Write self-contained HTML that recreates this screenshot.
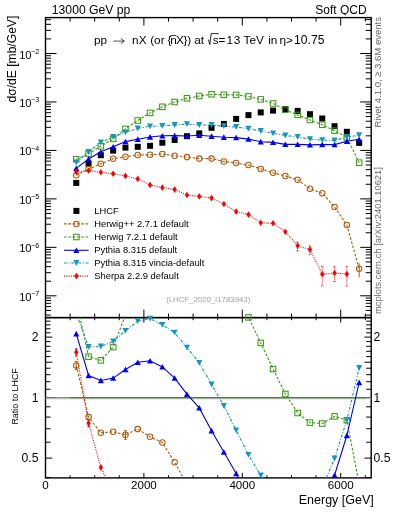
<!DOCTYPE html>
<html><head><meta charset="utf-8"><style>
html,body{margin:0;padding:0;background:#fff;}
body{width:393px;height:512px;position:relative;overflow:hidden;font-family:"Liberation Sans",sans-serif;}
svg{will-change:transform;}
text{font-family:"Liberation Sans",sans-serif;}
</style></head><body>
<svg width="393" height="512" viewBox="0 0 393 512" style="position:absolute;left:0;top:0">
<defs><clipPath id="cu"><rect x="45.50" y="17.60" width="325.70" height="300.00"/></clipPath>
<clipPath id="cr"><rect x="45.50" y="317.60" width="325.70" height="160.30"/></clipPath></defs>
<rect x="45.5" y="17.6" width="325.7" height="300.0" fill="none" stroke="#000" stroke-width="1.4"/>
<rect x="45.5" y="317.6" width="325.7" height="160.29999999999995" fill="none" stroke="#000" stroke-width="1.4"/>
<path d="M45.50,17.6 v8 M45.50,317.6 v-8 M45.50,317.6 v5 M45.50,477.9 v-5 M70.10,17.6 v4 M70.10,317.6 v-4 M70.10,317.6 v2.6 M70.10,477.9 v-2.6 M94.70,17.6 v4 M94.70,317.6 v-4 M94.70,317.6 v2.6 M94.70,477.9 v-2.6 M119.30,17.6 v4 M119.30,317.6 v-4 M119.30,317.6 v2.6 M119.30,477.9 v-2.6 M143.90,17.6 v8 M143.90,317.6 v-8 M143.90,317.6 v5 M143.90,477.9 v-5 M168.50,17.6 v4 M168.50,317.6 v-4 M168.50,317.6 v2.6 M168.50,477.9 v-2.6 M193.10,17.6 v4 M193.10,317.6 v-4 M193.10,317.6 v2.6 M193.10,477.9 v-2.6 M217.70,17.6 v4 M217.70,317.6 v-4 M217.70,317.6 v2.6 M217.70,477.9 v-2.6 M242.30,17.6 v8 M242.30,317.6 v-8 M242.30,317.6 v5 M242.30,477.9 v-5 M266.90,17.6 v4 M266.90,317.6 v-4 M266.90,317.6 v2.6 M266.90,477.9 v-2.6 M291.50,17.6 v4 M291.50,317.6 v-4 M291.50,317.6 v2.6 M291.50,477.9 v-2.6 M316.10,17.6 v4 M316.10,317.6 v-4 M316.10,317.6 v2.6 M316.10,477.9 v-2.6 M340.70,17.6 v8 M340.70,317.6 v-8 M340.70,317.6 v5 M340.70,477.9 v-5 M365.30,17.6 v4 M365.30,317.6 v-4 M365.30,317.6 v2.6 M365.30,477.9 v-2.6 M45.5,315.08 h5.5 M371.2,315.08 h-5.5 M45.5,310.39 h5.5 M371.2,310.39 h-5.5 M45.5,306.55 h5.5 M371.2,306.55 h-5.5 M45.5,303.31 h5.5 M371.2,303.31 h-5.5 M45.5,300.50 h5.5 M371.2,300.50 h-5.5 M45.5,298.02 h5.5 M371.2,298.02 h-5.5 M45.5,295.80 h11 M371.2,295.80 h-11 M45.5,281.21 h5.5 M371.2,281.21 h-5.5 M45.5,272.68 h5.5 M371.2,272.68 h-5.5 M45.5,266.62 h5.5 M371.2,266.62 h-5.5 M45.5,261.93 h5.5 M371.2,261.93 h-5.5 M45.5,258.09 h5.5 M371.2,258.09 h-5.5 M45.5,254.85 h5.5 M371.2,254.85 h-5.5 M45.5,252.04 h5.5 M371.2,252.04 h-5.5 M45.5,249.56 h5.5 M371.2,249.56 h-5.5 M45.5,247.34 h11 M371.2,247.34 h-11 M45.5,232.75 h5.5 M371.2,232.75 h-5.5 M45.5,224.22 h5.5 M371.2,224.22 h-5.5 M45.5,218.16 h5.5 M371.2,218.16 h-5.5 M45.5,213.47 h5.5 M371.2,213.47 h-5.5 M45.5,209.63 h5.5 M371.2,209.63 h-5.5 M45.5,206.39 h5.5 M371.2,206.39 h-5.5 M45.5,203.58 h5.5 M371.2,203.58 h-5.5 M45.5,201.10 h5.5 M371.2,201.10 h-5.5 M45.5,198.88 h11 M371.2,198.88 h-11 M45.5,184.29 h5.5 M371.2,184.29 h-5.5 M45.5,175.76 h5.5 M371.2,175.76 h-5.5 M45.5,169.70 h5.5 M371.2,169.70 h-5.5 M45.5,165.01 h5.5 M371.2,165.01 h-5.5 M45.5,161.17 h5.5 M371.2,161.17 h-5.5 M45.5,157.93 h5.5 M371.2,157.93 h-5.5 M45.5,155.12 h5.5 M371.2,155.12 h-5.5 M45.5,152.64 h5.5 M371.2,152.64 h-5.5 M45.5,150.42 h11 M371.2,150.42 h-11 M45.5,135.83 h5.5 M371.2,135.83 h-5.5 M45.5,127.30 h5.5 M371.2,127.30 h-5.5 M45.5,121.24 h5.5 M371.2,121.24 h-5.5 M45.5,116.55 h5.5 M371.2,116.55 h-5.5 M45.5,112.71 h5.5 M371.2,112.71 h-5.5 M45.5,109.47 h5.5 M371.2,109.47 h-5.5 M45.5,106.66 h5.5 M371.2,106.66 h-5.5 M45.5,104.18 h5.5 M371.2,104.18 h-5.5 M45.5,101.96 h11 M371.2,101.96 h-11 M45.5,87.37 h5.5 M371.2,87.37 h-5.5 M45.5,78.84 h5.5 M371.2,78.84 h-5.5 M45.5,72.78 h5.5 M371.2,72.78 h-5.5 M45.5,68.09 h5.5 M371.2,68.09 h-5.5 M45.5,64.25 h5.5 M371.2,64.25 h-5.5 M45.5,61.01 h5.5 M371.2,61.01 h-5.5 M45.5,58.20 h5.5 M371.2,58.20 h-5.5 M45.5,55.72 h5.5 M371.2,55.72 h-5.5 M45.5,53.50 h11 M371.2,53.50 h-11 M45.5,38.91 h5.5 M371.2,38.91 h-5.5 M45.5,30.38 h5.5 M371.2,30.38 h-5.5 M45.5,24.32 h5.5 M371.2,24.32 h-5.5 M45.5,19.63 h5.5 M371.2,19.63 h-5.5 M45.5,477.58 h5 M371.2,477.58 h-5 M45.5,458.10 h6.8 M371.2,458.10 h-6.8 M45.5,442.19 h5 M371.2,442.19 h-5 M45.5,428.73 h5 M371.2,428.73 h-5 M45.5,417.08 h5 M371.2,417.08 h-5 M45.5,406.80 h5 M371.2,406.80 h-5 M45.5,397.60 h10 M371.2,397.60 h-10 M45.5,389.28 h5 M371.2,389.28 h-5 M45.5,381.69 h5 M371.2,381.69 h-5 M45.5,374.70 h5 M371.2,374.70 h-5 M45.5,368.23 h5 M371.2,368.23 h-5 M45.5,362.21 h6.8 M371.2,362.21 h-6.8 M45.5,356.58 h5 M371.2,356.58 h-5 M45.5,351.29 h5 M371.2,351.29 h-5 M45.5,346.30 h5 M371.2,346.30 h-5 M45.5,341.58 h5 M371.2,341.58 h-5 M45.5,337.10 h6.8 M371.2,337.10 h-6.8 M45.5,332.84 h5 M371.2,332.84 h-5 M45.5,328.78 h5 M371.2,328.78 h-5 M45.5,324.90 h5 M371.2,324.90 h-5 M45.5,321.19 h5 M371.2,321.19 h-5" stroke="#000" stroke-width="1" fill="none"/>
<g clip-path="url(#cu)">
<polyline points="76.25,175.30 88.55,169.10 100.85,163.80 113.15,158.70 125.45,156.80 137.75,155.00 150.05,154.80 162.35,154.00 174.65,155.70 186.95,157.10 199.25,158.60 211.55,158.60 223.85,161.50 236.15,163.00 248.45,165.00 260.75,168.90 273.05,172.80 285.35,176.00 297.65,179.80 309.95,188.70 322.25,193.30 334.55,207.00 346.85,225.00 359.15,268.70" fill="none" stroke="#b05a0a" stroke-width="1.1" stroke-dasharray="2.6,1.7"/>
<polyline points="76.25,159.30 88.55,153.70 100.85,146.30 113.15,138.90 125.45,128.90 137.75,120.50 150.05,112.90 162.35,106.80 174.65,102.00 186.95,98.30 199.25,96.00 211.55,94.30 223.85,94.80 236.15,94.90 248.45,96.40 260.75,99.40 273.05,103.50 285.35,109.80 297.65,114.90 309.95,120.00 322.25,124.80 334.55,130.70 346.85,137.40 359.15,162.70" fill="none" stroke="#3a9a14" stroke-width="1.1" stroke-dasharray="2.6,1.7"/>
<polyline points="76.25,168.40 88.55,159.00 100.85,151.80 113.15,146.80 125.45,141.60 137.75,139.20 150.05,137.00 162.35,135.80 174.65,135.60 186.95,136.00 199.25,135.30 211.55,136.20 223.85,137.20 236.15,137.60 248.45,139.10 260.75,141.70 273.05,142.40 285.35,144.40 297.65,144.40 309.95,144.90 322.25,144.60 334.55,144.60 346.85,141.20 359.15,139.30" fill="none" stroke="#0000f0" stroke-width="1.1"/>
<polyline points="76.25,162.50 88.55,151.80 100.85,142.50 113.15,136.90 125.45,132.40 137.75,128.40 150.05,126.30 162.35,125.90 174.65,125.00 186.95,124.20 199.25,125.00 211.55,125.00 223.85,126.20 236.15,127.00 248.45,128.70 260.75,131.00 273.05,133.30 285.35,135.50 297.65,136.90 309.95,139.10 322.25,140.20 334.55,140.40 346.85,137.20 359.15,135.20" fill="none" stroke="#1496be" stroke-width="1.1" stroke-dasharray="3,1.6,1,1.6"/>
<polyline points="76.25,172.00 88.55,170.50 100.85,172.30 113.15,173.80 125.45,175.90 137.75,178.90 150.05,185.00 162.35,187.60 174.65,189.60 186.95,195.00 199.25,196.40 211.55,198.10 223.85,204.00 236.15,211.60 248.45,214.60 260.75,222.80 273.05,223.30 285.35,231.80 297.65,245.80 309.95,249.60 322.25,274.30 334.55,273.10 346.85,274.10" fill="none" stroke="#ff0000" stroke-width="1.1" stroke-dasharray="1,1.3"/>
<path d="M297.65,242 V251 M296.45,242 h2.4 M296.45,251 h2.4" stroke="#ff0000" stroke-width="1" stroke-dasharray="1,1" fill="none"/>
<path d="M309.95,245.8 V254.7 M308.75,245.8 h2.4 M308.75,254.7 h2.4" stroke="#ff0000" stroke-width="1" stroke-dasharray="1,1" fill="none"/>
<path d="M322.25,266.5 V286.2 M321.05,266.5 h2.4 M321.05,286.2 h2.4" stroke="#ff0000" stroke-width="1" stroke-dasharray="1,1" fill="none"/>
<path d="M334.55,266.7 V281.7 M333.35,266.7 h2.4 M333.35,281.7 h2.4" stroke="#ff0000" stroke-width="1" stroke-dasharray="1,1" fill="none"/>
<path d="M346.85,266.5 V286.2 M345.65,266.5 h2.4 M345.65,286.2 h2.4" stroke="#ff0000" stroke-width="1" stroke-dasharray="1,1" fill="none"/>
<path d="M359.15,263.3 V277.3" stroke="#b05a0a" stroke-width="1" fill="none"/>
</g>
<rect x="73.25" y="179.90" width="6" height="6" fill="#000"/>
<rect x="85.55" y="160.80" width="6" height="6" fill="#000"/>
<rect x="97.85" y="152.20" width="6" height="6" fill="#000"/>
<rect x="110.15" y="147.60" width="6" height="6" fill="#000"/>
<rect x="122.45" y="144.60" width="6" height="6" fill="#000"/>
<rect x="134.75" y="143.80" width="6" height="6" fill="#000"/>
<rect x="147.05" y="142.80" width="6" height="6" fill="#000"/>
<rect x="159.35" y="139.70" width="6" height="6" fill="#000"/>
<rect x="171.65" y="137.00" width="6" height="6" fill="#000"/>
<rect x="183.95" y="133.20" width="6" height="6" fill="#000"/>
<rect x="196.25" y="130.40" width="6" height="6" fill="#000"/>
<rect x="208.55" y="124.80" width="6" height="6" fill="#000"/>
<rect x="220.85" y="120.90" width="6" height="6" fill="#000"/>
<rect x="233.15" y="115.90" width="6" height="6" fill="#000"/>
<rect x="245.45" y="112.10" width="6" height="6" fill="#000"/>
<rect x="257.75" y="109.40" width="6" height="6" fill="#000"/>
<rect x="270.05" y="107.60" width="6" height="6" fill="#000"/>
<rect x="282.35" y="106.10" width="6" height="6" fill="#000"/>
<rect x="294.65" y="107.90" width="6" height="6" fill="#000"/>
<rect x="306.95" y="111.20" width="6" height="6" fill="#000"/>
<rect x="319.25" y="115.50" width="6" height="6" fill="#000"/>
<rect x="331.55" y="123.20" width="6" height="6" fill="#000"/>
<rect x="343.85" y="128.80" width="6" height="6" fill="#000"/>
<rect x="356.15" y="139.90" width="6" height="6" fill="#000"/>
<circle cx="76.25" cy="175.30" r="2.75" fill="none" stroke="#b05a0a" stroke-width="1.05"/>
<circle cx="88.55" cy="169.10" r="2.75" fill="none" stroke="#b05a0a" stroke-width="1.05"/>
<circle cx="100.85" cy="163.80" r="2.75" fill="none" stroke="#b05a0a" stroke-width="1.05"/>
<circle cx="113.15" cy="158.70" r="2.75" fill="none" stroke="#b05a0a" stroke-width="1.05"/>
<circle cx="125.45" cy="156.80" r="2.75" fill="none" stroke="#b05a0a" stroke-width="1.05"/>
<circle cx="137.75" cy="155.00" r="2.75" fill="none" stroke="#b05a0a" stroke-width="1.05"/>
<circle cx="150.05" cy="154.80" r="2.75" fill="none" stroke="#b05a0a" stroke-width="1.05"/>
<circle cx="162.35" cy="154.00" r="2.75" fill="none" stroke="#b05a0a" stroke-width="1.05"/>
<circle cx="174.65" cy="155.70" r="2.75" fill="none" stroke="#b05a0a" stroke-width="1.05"/>
<circle cx="186.95" cy="157.10" r="2.75" fill="none" stroke="#b05a0a" stroke-width="1.05"/>
<circle cx="199.25" cy="158.60" r="2.75" fill="none" stroke="#b05a0a" stroke-width="1.05"/>
<circle cx="211.55" cy="158.60" r="2.75" fill="none" stroke="#b05a0a" stroke-width="1.05"/>
<circle cx="223.85" cy="161.50" r="2.75" fill="none" stroke="#b05a0a" stroke-width="1.05"/>
<circle cx="236.15" cy="163.00" r="2.75" fill="none" stroke="#b05a0a" stroke-width="1.05"/>
<circle cx="248.45" cy="165.00" r="2.75" fill="none" stroke="#b05a0a" stroke-width="1.05"/>
<circle cx="260.75" cy="168.90" r="2.75" fill="none" stroke="#b05a0a" stroke-width="1.05"/>
<circle cx="273.05" cy="172.80" r="2.75" fill="none" stroke="#b05a0a" stroke-width="1.05"/>
<circle cx="285.35" cy="176.00" r="2.75" fill="none" stroke="#b05a0a" stroke-width="1.05"/>
<circle cx="297.65" cy="179.80" r="2.75" fill="none" stroke="#b05a0a" stroke-width="1.05"/>
<circle cx="309.95" cy="188.70" r="2.75" fill="none" stroke="#b05a0a" stroke-width="1.05"/>
<circle cx="322.25" cy="193.30" r="2.75" fill="none" stroke="#b05a0a" stroke-width="1.05"/>
<circle cx="334.55" cy="207.00" r="2.75" fill="none" stroke="#b05a0a" stroke-width="1.05"/>
<circle cx="346.85" cy="225.00" r="2.75" fill="none" stroke="#b05a0a" stroke-width="1.05"/>
<circle cx="359.15" cy="268.70" r="2.75" fill="none" stroke="#b05a0a" stroke-width="1.05"/>
<rect x="73.50" y="156.55" width="5.5" height="5.5" fill="none" stroke="#3a9a14" stroke-width="1.05"/>
<rect x="85.80" y="150.95" width="5.5" height="5.5" fill="none" stroke="#3a9a14" stroke-width="1.05"/>
<rect x="98.10" y="143.55" width="5.5" height="5.5" fill="none" stroke="#3a9a14" stroke-width="1.05"/>
<rect x="110.40" y="136.15" width="5.5" height="5.5" fill="none" stroke="#3a9a14" stroke-width="1.05"/>
<rect x="122.70" y="126.15" width="5.5" height="5.5" fill="none" stroke="#3a9a14" stroke-width="1.05"/>
<rect x="135.00" y="117.75" width="5.5" height="5.5" fill="none" stroke="#3a9a14" stroke-width="1.05"/>
<rect x="147.30" y="110.15" width="5.5" height="5.5" fill="none" stroke="#3a9a14" stroke-width="1.05"/>
<rect x="159.60" y="104.05" width="5.5" height="5.5" fill="none" stroke="#3a9a14" stroke-width="1.05"/>
<rect x="171.90" y="99.25" width="5.5" height="5.5" fill="none" stroke="#3a9a14" stroke-width="1.05"/>
<rect x="184.20" y="95.55" width="5.5" height="5.5" fill="none" stroke="#3a9a14" stroke-width="1.05"/>
<rect x="196.50" y="93.25" width="5.5" height="5.5" fill="none" stroke="#3a9a14" stroke-width="1.05"/>
<rect x="208.80" y="91.55" width="5.5" height="5.5" fill="none" stroke="#3a9a14" stroke-width="1.05"/>
<rect x="221.10" y="92.05" width="5.5" height="5.5" fill="none" stroke="#3a9a14" stroke-width="1.05"/>
<rect x="233.40" y="92.15" width="5.5" height="5.5" fill="none" stroke="#3a9a14" stroke-width="1.05"/>
<rect x="245.70" y="93.65" width="5.5" height="5.5" fill="none" stroke="#3a9a14" stroke-width="1.05"/>
<rect x="258.00" y="96.65" width="5.5" height="5.5" fill="none" stroke="#3a9a14" stroke-width="1.05"/>
<rect x="270.30" y="100.75" width="5.5" height="5.5" fill="none" stroke="#3a9a14" stroke-width="1.05"/>
<rect x="282.60" y="107.05" width="5.5" height="5.5" fill="none" stroke="#3a9a14" stroke-width="1.05"/>
<rect x="294.90" y="112.15" width="5.5" height="5.5" fill="none" stroke="#3a9a14" stroke-width="1.05"/>
<rect x="307.20" y="117.25" width="5.5" height="5.5" fill="none" stroke="#3a9a14" stroke-width="1.05"/>
<rect x="319.50" y="122.05" width="5.5" height="5.5" fill="none" stroke="#3a9a14" stroke-width="1.05"/>
<rect x="331.80" y="127.95" width="5.5" height="5.5" fill="none" stroke="#3a9a14" stroke-width="1.05"/>
<rect x="344.10" y="134.65" width="5.5" height="5.5" fill="none" stroke="#3a9a14" stroke-width="1.05"/>
<rect x="356.40" y="159.95" width="5.5" height="5.5" fill="none" stroke="#3a9a14" stroke-width="1.05"/>
<path d="M76.25,165.50 L79.30,171.10 L73.20,171.10 Z" fill="#0000f0"/>
<path d="M88.55,156.10 L91.60,161.70 L85.50,161.70 Z" fill="#0000f0"/>
<path d="M100.85,148.90 L103.90,154.50 L97.80,154.50 Z" fill="#0000f0"/>
<path d="M113.15,143.90 L116.20,149.50 L110.10,149.50 Z" fill="#0000f0"/>
<path d="M125.45,138.70 L128.50,144.30 L122.40,144.30 Z" fill="#0000f0"/>
<path d="M137.75,136.30 L140.80,141.90 L134.70,141.90 Z" fill="#0000f0"/>
<path d="M150.05,134.10 L153.10,139.70 L147.00,139.70 Z" fill="#0000f0"/>
<path d="M162.35,132.90 L165.40,138.50 L159.30,138.50 Z" fill="#0000f0"/>
<path d="M174.65,132.70 L177.70,138.30 L171.60,138.30 Z" fill="#0000f0"/>
<path d="M186.95,133.10 L190.00,138.70 L183.90,138.70 Z" fill="#0000f0"/>
<path d="M199.25,132.40 L202.30,138.00 L196.20,138.00 Z" fill="#0000f0"/>
<path d="M211.55,133.30 L214.60,138.90 L208.50,138.90 Z" fill="#0000f0"/>
<path d="M223.85,134.30 L226.90,139.90 L220.80,139.90 Z" fill="#0000f0"/>
<path d="M236.15,134.70 L239.20,140.30 L233.10,140.30 Z" fill="#0000f0"/>
<path d="M248.45,136.20 L251.50,141.80 L245.40,141.80 Z" fill="#0000f0"/>
<path d="M260.75,138.80 L263.80,144.40 L257.70,144.40 Z" fill="#0000f0"/>
<path d="M273.05,139.50 L276.10,145.10 L270.00,145.10 Z" fill="#0000f0"/>
<path d="M285.35,141.50 L288.40,147.10 L282.30,147.10 Z" fill="#0000f0"/>
<path d="M297.65,141.50 L300.70,147.10 L294.60,147.10 Z" fill="#0000f0"/>
<path d="M309.95,142.00 L313.00,147.60 L306.90,147.60 Z" fill="#0000f0"/>
<path d="M322.25,141.70 L325.30,147.30 L319.20,147.30 Z" fill="#0000f0"/>
<path d="M334.55,141.70 L337.60,147.30 L331.50,147.30 Z" fill="#0000f0"/>
<path d="M346.85,138.30 L349.90,143.90 L343.80,143.90 Z" fill="#0000f0"/>
<path d="M359.15,136.40 L362.20,142.00 L356.10,142.00 Z" fill="#0000f0"/>
<path d="M73.20,159.60 L79.30,159.60 L76.25,165.40 Z" fill="#1496be"/>
<path d="M85.50,148.90 L91.60,148.90 L88.55,154.70 Z" fill="#1496be"/>
<path d="M97.80,139.60 L103.90,139.60 L100.85,145.40 Z" fill="#1496be"/>
<path d="M110.10,134.00 L116.20,134.00 L113.15,139.80 Z" fill="#1496be"/>
<path d="M122.40,129.50 L128.50,129.50 L125.45,135.30 Z" fill="#1496be"/>
<path d="M134.70,125.50 L140.80,125.50 L137.75,131.30 Z" fill="#1496be"/>
<path d="M147.00,123.40 L153.10,123.40 L150.05,129.20 Z" fill="#1496be"/>
<path d="M159.30,123.00 L165.40,123.00 L162.35,128.80 Z" fill="#1496be"/>
<path d="M171.60,122.10 L177.70,122.10 L174.65,127.90 Z" fill="#1496be"/>
<path d="M183.90,121.30 L190.00,121.30 L186.95,127.10 Z" fill="#1496be"/>
<path d="M196.20,122.10 L202.30,122.10 L199.25,127.90 Z" fill="#1496be"/>
<path d="M208.50,122.10 L214.60,122.10 L211.55,127.90 Z" fill="#1496be"/>
<path d="M220.80,123.30 L226.90,123.30 L223.85,129.10 Z" fill="#1496be"/>
<path d="M233.10,124.10 L239.20,124.10 L236.15,129.90 Z" fill="#1496be"/>
<path d="M245.40,125.80 L251.50,125.80 L248.45,131.60 Z" fill="#1496be"/>
<path d="M257.70,128.10 L263.80,128.10 L260.75,133.90 Z" fill="#1496be"/>
<path d="M270.00,130.40 L276.10,130.40 L273.05,136.20 Z" fill="#1496be"/>
<path d="M282.30,132.60 L288.40,132.60 L285.35,138.40 Z" fill="#1496be"/>
<path d="M294.60,134.00 L300.70,134.00 L297.65,139.80 Z" fill="#1496be"/>
<path d="M306.90,136.20 L313.00,136.20 L309.95,142.00 Z" fill="#1496be"/>
<path d="M319.20,137.30 L325.30,137.30 L322.25,143.10 Z" fill="#1496be"/>
<path d="M331.50,137.50 L337.60,137.50 L334.55,143.30 Z" fill="#1496be"/>
<path d="M343.80,134.30 L349.90,134.30 L346.85,140.10 Z" fill="#1496be"/>
<path d="M356.10,132.30 L362.20,132.30 L359.15,138.10 Z" fill="#1496be"/>
<path d="M76.25,168.70 L78.45,172.00 L76.25,175.30 L74.05,172.00 Z" fill="#ff0000"/>
<path d="M88.55,167.20 L90.75,170.50 L88.55,173.80 L86.35,170.50 Z" fill="#ff0000"/>
<path d="M100.85,169.00 L103.05,172.30 L100.85,175.60 L98.65,172.30 Z" fill="#ff0000"/>
<path d="M113.15,170.50 L115.35,173.80 L113.15,177.10 L110.95,173.80 Z" fill="#ff0000"/>
<path d="M125.45,172.60 L127.65,175.90 L125.45,179.20 L123.25,175.90 Z" fill="#ff0000"/>
<path d="M137.75,175.60 L139.95,178.90 L137.75,182.20 L135.55,178.90 Z" fill="#ff0000"/>
<path d="M150.05,181.70 L152.25,185.00 L150.05,188.30 L147.85,185.00 Z" fill="#ff0000"/>
<path d="M162.35,184.30 L164.55,187.60 L162.35,190.90 L160.15,187.60 Z" fill="#ff0000"/>
<path d="M174.65,186.30 L176.85,189.60 L174.65,192.90 L172.45,189.60 Z" fill="#ff0000"/>
<path d="M186.95,191.70 L189.15,195.00 L186.95,198.30 L184.75,195.00 Z" fill="#ff0000"/>
<path d="M199.25,193.10 L201.45,196.40 L199.25,199.70 L197.05,196.40 Z" fill="#ff0000"/>
<path d="M211.55,194.80 L213.75,198.10 L211.55,201.40 L209.35,198.10 Z" fill="#ff0000"/>
<path d="M223.85,200.70 L226.05,204.00 L223.85,207.30 L221.65,204.00 Z" fill="#ff0000"/>
<path d="M236.15,208.30 L238.35,211.60 L236.15,214.90 L233.95,211.60 Z" fill="#ff0000"/>
<path d="M248.45,211.30 L250.65,214.60 L248.45,217.90 L246.25,214.60 Z" fill="#ff0000"/>
<path d="M260.75,219.50 L262.95,222.80 L260.75,226.10 L258.55,222.80 Z" fill="#ff0000"/>
<path d="M273.05,220.00 L275.25,223.30 L273.05,226.60 L270.85,223.30 Z" fill="#ff0000"/>
<path d="M285.35,228.50 L287.55,231.80 L285.35,235.10 L283.15,231.80 Z" fill="#ff0000"/>
<path d="M297.65,242.50 L299.85,245.80 L297.65,249.10 L295.45,245.80 Z" fill="#ff0000"/>
<path d="M309.95,246.30 L312.15,249.60 L309.95,252.90 L307.75,249.60 Z" fill="#ff0000"/>
<path d="M322.25,271.00 L324.45,274.30 L322.25,277.60 L320.05,274.30 Z" fill="#ff0000"/>
<path d="M334.55,269.80 L336.75,273.10 L334.55,276.40 L332.35,273.10 Z" fill="#ff0000"/>
<path d="M346.85,270.80 L349.05,274.10 L346.85,277.40 L344.65,274.10 Z" fill="#ff0000"/>
<rect x="45.5" y="397.1" width="325.7" height="1.4" fill="#7a7a7a"/>
<rect x="45.5" y="398.5" width="325.7" height="0.8" fill="#c4c4c4"/>
<rect x="69.9" y="397.1" width="295.40" height="1.2" fill="#4f7a44"/>
<g clip-path="url(#cr)">
<polyline points="76.25,365.50 88.55,417.10 100.85,432.80 113.15,431.80 125.45,434.80 137.75,429.10 150.05,436.80 162.35,442.50 174.65,462.30 186.95,484.21 199.25,502.03 211.55,525.24 223.85,553.41 236.15,580.35 248.45,604.39 260.75,631.74 273.05,655.36 285.35,674.83 297.65,683.12 309.95,706.33 322.25,707.57 334.55,732.44 346.85,783.82 359.15,918.92" fill="none" stroke="#b05a0a" stroke-width="1.1" stroke-dasharray="2.6,1.7"/>
<polyline points="76.25,299.80 88.55,356.70 100.85,360.40 113.15,347.10 125.45,315.20 137.75,288.61 150.05,261.26 162.35,248.83 174.65,240.13 186.95,240.54 199.25,242.61 211.55,258.78 223.85,277.01 236.15,298.14 248.45,317.40 260.75,342.90 273.05,369.00 285.35,394.00 297.65,413.00 309.95,422.60 322.25,423.50 334.55,416.40 346.85,420.20 359.15,484.00" fill="none" stroke="#3a9a14" stroke-width="1.1" stroke-dasharray="2.6,1.7"/>
<polyline points="76.25,333.70 88.55,375.50 100.85,380.50 113.15,378.10 125.45,369.50 137.75,362.30 150.05,360.80 162.35,366.90 174.65,378.10 186.95,394.20 199.25,407.90 211.55,430.70 223.85,452.10 236.15,473.50 248.45,497.06 260.75,519.02 273.05,529.38 285.35,543.88 297.65,536.42 309.95,524.82 322.25,505.76 334.55,475.20 346.85,435.50 359.15,382.50" fill="none" stroke="#0000f0" stroke-width="1.1"/>
<polyline points="76.25,313.06 88.55,347.00 100.85,346.50 113.15,341.40 125.45,330.80 137.75,321.10 150.05,318.60 162.35,324.80 174.65,332.70 186.95,347.60 199.25,362.80 211.55,384.50 223.85,405.80 236.15,430.30 248.45,454.80 260.75,475.50 273.05,491.67 285.35,507.00 297.65,505.34 309.95,500.79 322.25,487.52 334.55,458.50 346.85,420.00 359.15,368.00" fill="none" stroke="#1496be" stroke-width="1.1" stroke-dasharray="3,1.6,1,1.6"/>
<polyline points="76.25,352.20 88.55,423.20 100.85,467.40 113.15,493.74 125.45,514.88 137.75,530.62 150.05,560.04 162.35,583.67 174.65,603.14 186.95,641.27 199.25,658.67 211.55,688.92 223.85,729.53 236.15,781.75 248.45,809.93 260.75,855.10 273.05,864.63 285.35,906.07 297.65,956.63 309.95,958.70 322.25,1043.24 334.55,1006.35 346.85,987.29" fill="none" stroke="#ff0000" stroke-width="1.1" stroke-dasharray="1,1.3"/>
<path d="M76.25,348.8 V356 M75.05,348.8 h2.4 M75.05,356 h2.4" stroke="#ff0000" stroke-width="1" fill="none"/>
<path d="M88.55,419.9 V426.8 M87.35,419.9 h2.4 M87.35,426.8 h2.4" stroke="#ff0000" stroke-width="1" fill="none"/>
<path d="M76.25,361.4 V369.5 M75.05,361.4 h2.4 M75.05,369.5 h2.4" stroke="#b05a0a" stroke-width="1" fill="none"/>
<path d="M125.45,430.6 V439.4 M124.25,430.6 h2.4 M124.25,439.4 h2.4" stroke="#b05a0a" stroke-width="1" fill="none"/>
</g>
<circle cx="76.25" cy="365.50" r="2.75" fill="none" stroke="#b05a0a" stroke-width="1.05"/>
<circle cx="88.55" cy="417.10" r="2.75" fill="none" stroke="#b05a0a" stroke-width="1.05"/>
<circle cx="100.85" cy="432.80" r="2.75" fill="none" stroke="#b05a0a" stroke-width="1.05"/>
<circle cx="113.15" cy="431.80" r="2.75" fill="none" stroke="#b05a0a" stroke-width="1.05"/>
<circle cx="125.45" cy="434.80" r="2.75" fill="none" stroke="#b05a0a" stroke-width="1.05"/>
<circle cx="137.75" cy="429.10" r="2.75" fill="none" stroke="#b05a0a" stroke-width="1.05"/>
<circle cx="150.05" cy="436.80" r="2.75" fill="none" stroke="#b05a0a" stroke-width="1.05"/>
<circle cx="162.35" cy="442.50" r="2.75" fill="none" stroke="#b05a0a" stroke-width="1.05"/>
<circle cx="174.65" cy="462.30" r="2.75" fill="none" stroke="#b05a0a" stroke-width="1.05"/>
<rect x="85.80" y="353.95" width="5.5" height="5.5" fill="none" stroke="#3a9a14" stroke-width="1.05"/>
<rect x="98.10" y="357.65" width="5.5" height="5.5" fill="none" stroke="#3a9a14" stroke-width="1.05"/>
<rect x="110.40" y="344.35" width="5.5" height="5.5" fill="none" stroke="#3a9a14" stroke-width="1.05"/>
<rect x="245.70" y="314.65" width="5.5" height="5.5" fill="none" stroke="#3a9a14" stroke-width="1.05"/>
<rect x="258.00" y="340.15" width="5.5" height="5.5" fill="none" stroke="#3a9a14" stroke-width="1.05"/>
<rect x="270.30" y="366.25" width="5.5" height="5.5" fill="none" stroke="#3a9a14" stroke-width="1.05"/>
<rect x="282.60" y="391.25" width="5.5" height="5.5" fill="none" stroke="#3a9a14" stroke-width="1.05"/>
<rect x="294.90" y="410.25" width="5.5" height="5.5" fill="none" stroke="#3a9a14" stroke-width="1.05"/>
<rect x="307.20" y="419.85" width="5.5" height="5.5" fill="none" stroke="#3a9a14" stroke-width="1.05"/>
<rect x="319.50" y="420.75" width="5.5" height="5.5" fill="none" stroke="#3a9a14" stroke-width="1.05"/>
<rect x="331.80" y="413.65" width="5.5" height="5.5" fill="none" stroke="#3a9a14" stroke-width="1.05"/>
<rect x="344.10" y="417.45" width="5.5" height="5.5" fill="none" stroke="#3a9a14" stroke-width="1.05"/>
<path d="M76.25,330.80 L79.30,336.40 L73.20,336.40 Z" fill="#0000f0"/>
<path d="M88.55,372.60 L91.60,378.20 L85.50,378.20 Z" fill="#0000f0"/>
<path d="M100.85,377.60 L103.90,383.20 L97.80,383.20 Z" fill="#0000f0"/>
<path d="M113.15,375.20 L116.20,380.80 L110.10,380.80 Z" fill="#0000f0"/>
<path d="M125.45,366.60 L128.50,372.20 L122.40,372.20 Z" fill="#0000f0"/>
<path d="M137.75,359.40 L140.80,365.00 L134.70,365.00 Z" fill="#0000f0"/>
<path d="M150.05,357.90 L153.10,363.50 L147.00,363.50 Z" fill="#0000f0"/>
<path d="M162.35,364.00 L165.40,369.60 L159.30,369.60 Z" fill="#0000f0"/>
<path d="M174.65,375.20 L177.70,380.80 L171.60,380.80 Z" fill="#0000f0"/>
<path d="M186.95,391.30 L190.00,396.90 L183.90,396.90 Z" fill="#0000f0"/>
<path d="M199.25,405.00 L202.30,410.60 L196.20,410.60 Z" fill="#0000f0"/>
<path d="M211.55,427.80 L214.60,433.40 L208.50,433.40 Z" fill="#0000f0"/>
<path d="M223.85,449.20 L226.90,454.80 L220.80,454.80 Z" fill="#0000f0"/>
<path d="M236.15,470.60 L239.20,476.20 L233.10,476.20 Z" fill="#0000f0"/>
<path d="M334.55,472.30 L337.60,477.90 L331.50,477.90 Z" fill="#0000f0"/>
<path d="M346.85,432.60 L349.90,438.20 L343.80,438.20 Z" fill="#0000f0"/>
<path d="M359.15,379.60 L362.20,385.20 L356.10,385.20 Z" fill="#0000f0"/>
<path d="M85.50,344.10 L91.60,344.10 L88.55,349.90 Z" fill="#1496be"/>
<path d="M97.80,343.60 L103.90,343.60 L100.85,349.40 Z" fill="#1496be"/>
<path d="M110.10,338.50 L116.20,338.50 L113.15,344.30 Z" fill="#1496be"/>
<path d="M122.40,327.90 L128.50,327.90 L125.45,333.70 Z" fill="#1496be"/>
<path d="M134.70,318.20 L140.80,318.20 L137.75,324.00 Z" fill="#1496be"/>
<path d="M147.00,315.70 L153.10,315.70 L150.05,321.50 Z" fill="#1496be"/>
<path d="M159.30,321.90 L165.40,321.90 L162.35,327.70 Z" fill="#1496be"/>
<path d="M171.60,329.80 L177.70,329.80 L174.65,335.60 Z" fill="#1496be"/>
<path d="M183.90,344.70 L190.00,344.70 L186.95,350.50 Z" fill="#1496be"/>
<path d="M196.20,359.90 L202.30,359.90 L199.25,365.70 Z" fill="#1496be"/>
<path d="M208.50,381.60 L214.60,381.60 L211.55,387.40 Z" fill="#1496be"/>
<path d="M220.80,402.90 L226.90,402.90 L223.85,408.70 Z" fill="#1496be"/>
<path d="M233.10,427.40 L239.20,427.40 L236.15,433.20 Z" fill="#1496be"/>
<path d="M245.40,451.90 L251.50,451.90 L248.45,457.70 Z" fill="#1496be"/>
<path d="M257.70,472.60 L263.80,472.60 L260.75,478.40 Z" fill="#1496be"/>
<path d="M331.50,455.60 L337.60,455.60 L334.55,461.40 Z" fill="#1496be"/>
<path d="M343.80,417.10 L349.90,417.10 L346.85,422.90 Z" fill="#1496be"/>
<path d="M356.10,365.10 L362.20,365.10 L359.15,370.90 Z" fill="#1496be"/>
<path d="M76.25,348.90 L78.45,352.20 L76.25,355.50 L74.05,352.20 Z" fill="#ff0000"/>
<path d="M88.55,419.90 L90.75,423.20 L88.55,426.50 L86.35,423.20 Z" fill="#ff0000"/>
<path d="M100.85,464.10 L103.05,467.40 L100.85,470.70 L98.65,467.40 Z" fill="#ff0000"/>
<rect x="73.40" y="207.90" width="6" height="6" fill="#000"/>
<path d="M64,223.9 H88.6" stroke="#b05a0a" stroke-width="1.1" fill="none" stroke-dasharray="2.6,1.7"/>
<circle cx="76.40" cy="223.90" r="2.75" fill="none" stroke="#b05a0a" stroke-width="1.05"/>
<path d="M64,237.0 H88.6" stroke="#3a9a14" stroke-width="1.1" fill="none" stroke-dasharray="2.6,1.7"/>
<rect x="73.65" y="234.25" width="5.5" height="5.5" fill="none" stroke="#3a9a14" stroke-width="1.05"/>
<path d="M64,250.3 H88.6" stroke="#0000f0" stroke-width="1.1" fill="none"/>
<path d="M76.40,247.40 L79.45,253.00 L73.35,253.00 Z" fill="#0000f0"/>
<path d="M64,263.0 H88.6" stroke="#1496be" stroke-width="1.1" fill="none" stroke-dasharray="3,1.6,1,1.6"/>
<path d="M73.35,260.10 L79.45,260.10 L76.40,265.90 Z" fill="#1496be"/>
<path d="M64,276.1 H88.6" stroke="#ff0000" stroke-width="1.1" fill="none" stroke-dasharray="1,1.3"/>
<path d="M76.40,272.80 L78.60,276.10 L76.40,279.40 L74.20,276.10 Z" fill="#ff0000"/>
</svg>
<svg width="393" height="512" style="position:absolute;left:0;top:0;font-family:"Liberation Sans",sans-serif;"><text transform="translate(94.2,213.85) scale(1,1.05)" font-size="9.4">LHCF</text>
<text transform="translate(94.2,226.85) scale(1,1.05)" font-size="9.4">Herwig++ 2.7.1 default</text>
<text transform="translate(94.2,239.95) scale(1,1.05)" font-size="9.4">Herwig 7.2.1 default</text>
<text transform="translate(94.2,253.25) scale(1,1.05)" font-size="9.4">Pythia 8.315 default</text>
<text transform="translate(94.2,265.95) scale(1,1.05)" font-size="9.4">Pythia 8.315 vincia-default</text>
<text transform="translate(94.2,279.05) scale(1,1.05)" font-size="9.4">Sherpa 2.2.9 default</text>
<text x="51.8" y="14.2" font-size="12.2" text-anchor="start" fill="#000" >13000 GeV pp</text>
<clipPath id="cq"><rect x="300" y="0" width="80" height="15.2"/></clipPath>
<text x="366.6" y="14.1" font-size="12" text-anchor="end" fill="#000" clip-path="url(#cq)">Soft QCD</text>
<text x="208.2" y="301.7" font-size="7.8" text-anchor="middle" fill="#a2a2a2" >(LHCF_2020_I1783943)</text>
<text x="31.6" y="58.50" font-size="11.2" text-anchor="end">10</text>
<text x="31.1" y="53.70" font-size="7.1">−2</text>
<text x="31.6" y="106.96" font-size="11.2" text-anchor="end">10</text>
<text x="31.1" y="102.16" font-size="7.1">−3</text>
<text x="31.6" y="155.42" font-size="11.2" text-anchor="end">10</text>
<text x="31.1" y="150.62" font-size="7.1">−4</text>
<text x="31.6" y="203.88" font-size="11.2" text-anchor="end">10</text>
<text x="31.1" y="199.08" font-size="7.1">−5</text>
<text x="31.6" y="252.34" font-size="11.2" text-anchor="end">10</text>
<text x="31.1" y="247.54" font-size="7.1">−6</text>
<text x="31.6" y="300.80" font-size="11.2" text-anchor="end">10</text>
<text x="31.1" y="296.00" font-size="7.1">−7</text>
<text x="38.5" y="341.40" font-size="12.2" text-anchor="end" fill="#000" >2</text>
<text x="373.5" y="341.40" font-size="12.2" text-anchor="start" fill="#000" >2</text>
<text x="38.5" y="401.90" font-size="12.2" text-anchor="end" fill="#000" >1</text>
<text x="373.5" y="401.90" font-size="12.2" text-anchor="start" fill="#000" >1</text>
<text x="38.5" y="462.40" font-size="12.2" text-anchor="end" fill="#000" >0.5</text>
<text x="373.5" y="462.40" font-size="12.2" text-anchor="start" fill="#000" >0.5</text>
<text x="45.50" y="489.2" font-size="11.6" text-anchor="middle" fill="#000" >0</text>
<text x="143.90" y="489.2" font-size="11.6" text-anchor="middle" fill="#000" >2000</text>
<text x="242.30" y="489.2" font-size="11.6" text-anchor="middle" fill="#000" >4000</text>
<text x="340.70" y="489.2" font-size="11.6" text-anchor="middle" fill="#000" >6000</text>
<text x="373.8" y="504" font-size="12.5" text-anchor="end" fill="#000" >Energy [GeV]</text>
<text transform="translate(16.4,102.5) rotate(-90)" font-size="12.1" text-anchor="start">dσ/dE [mb/GeV]</text>
<text transform="translate(17.9,396.4) rotate(-90) scale(1,1.08)" font-size="8.9" text-anchor="middle">Ratio to LHCF</text>
<text transform="translate(380.8,127.6) rotate(-90)" font-size="9.8" fill="#6a6a6a" text-anchor="start" textLength="110.6" lengthAdjust="spacingAndGlyphs">Rivet 4.1.0, ≥ 3.6M events</text>
<text transform="translate(380.8,314.1) rotate(-90)" font-size="9.8" fill="#6a6a6a" text-anchor="start" textLength="147" lengthAdjust="spacingAndGlyphs">mcplots.cern.ch [arXiv:2401.10621]</text>
<text y="43.9" font-size="11.8"><tspan x="93.9">pp</tspan><tspan x="132.1">nX</tspan><tspan x="150.2">(or</tspan><tspan x="167.6">{</tspan><tspan x="170.2">n</tspan><tspan x="175.9">X</tspan><tspan x="183.4">}</tspan><tspan x="187.3">)</tspan><tspan x="194.2">at</tspan><tspan x="212.7">s=</tspan><tspan x="226.4" letter-spacing="0.7">13</tspan><tspan x="243.5">TeV</tspan><tspan x="268.2">in</tspan><tspan x="279.6">η</tspan><tspan x="285.9">&gt;</tspan><tspan x="294.1" font-size="12.1">10.75</tspan></text>
<path d="M113.4,41.1 H124.1 M120.8,38.5 L124.3,41.1 L120.8,43.7" stroke="#000" stroke-width="0.7" fill="none"/>
<path d="M170.3,35.6 H176.4" stroke="#000" stroke-width="0.8" fill="none"/>
<path d="M207.9,40.2 L208.5,39.9 L209.8,44.6 L211.2,33.6 H218.7" stroke="#000" stroke-width="0.85" fill="none"/></svg>
</body></html>
